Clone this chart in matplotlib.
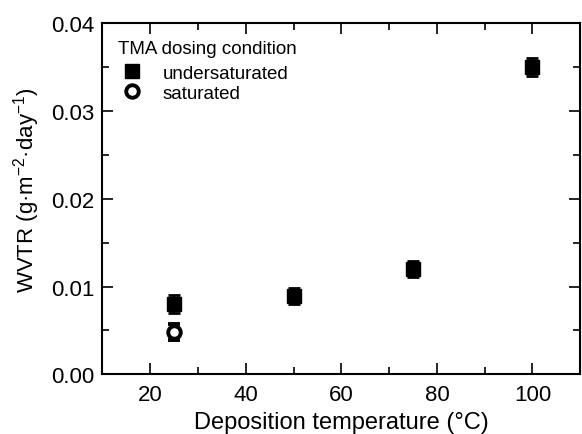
import matplotlib
matplotlib.use("Agg")
import matplotlib.pyplot as plt
from matplotlib.ticker import MultipleLocator, FormatStrFormatter
from matplotlib.lines import Line2D

plt.rcParams["font.family"] = ["Liberation Sans", "DejaVu Sans"]

# undersaturated TMA dosing
temp_under = [25, 50, 75, 100]
wvtr_under = [0.0080, 0.0089, 0.0120, 0.0350]
err_under  = [0.0010, 0.0009, 0.0009, 0.0010]

# saturated TMA dosing
temp_sat = [25]
wvtr_sat = [0.0048]
err_sat  = [0.0009]

fig = plt.figure(figsize=(5.82, 4.35), dpi=100)
ax = fig.add_axes([0.176, 0.137, 0.821, 0.808])

ax.errorbar(temp_under, wvtr_under, yerr=err_under, fmt="s", ms=9.5,
            color="black", mfc="black", mec="black", ecolor="black",
            elinewidth=1.5, capsize=4.5, capthick=2, zorder=3)
ax.errorbar(temp_sat, wvtr_sat, yerr=err_sat, fmt="o", ms=9,
            color="black", mfc="white", mec="black", mew=2.8, ecolor="black",
            elinewidth=1.5, capsize=4.5, capthick=2, zorder=3)

ax.set_xlim(10, 110)
ax.set_ylim(0, 0.04)
ax.xaxis.set_major_locator(MultipleLocator(20))
ax.xaxis.set_minor_locator(MultipleLocator(10))
ax.yaxis.set_major_locator(MultipleLocator(0.01))
ax.yaxis.set_minor_locator(MultipleLocator(0.005))
ax.yaxis.set_major_formatter(FormatStrFormatter("%.2f"))

ax.tick_params(which="both", direction="in", top=True, right=True,
               labelsize=16, width=1.2)
ax.tick_params(which="major", length=8)
ax.tick_params(which="minor", length=5)
ax.tick_params(axis="x", pad=7)
ax.tick_params(axis="y", pad=6)
for s in ax.spines.values():
    s.set_linewidth(1.5)

ax.set_xlabel("Deposition temperature (\u00b0C)", fontsize=17, labelpad=4)
ax.set_ylabel("WVTR (g\u00b7m$^{\\mathregular{-2}}$\u00b7day$^{\\mathregular{-1}}$)",
              fontsize=16)
ax.yaxis.set_label_coords(-0.127, 0.528)

handles = [
    Line2D([], [], ls="none", marker="s", ms=9.5, color="black"),
    Line2D([], [], ls="none", marker="o", ms=9, mfc="white", mec="black", mew=2.8),
]
leg = ax.legend(handles, ["undersaturated", "saturated"],
                title="TMA dosing condition", loc="upper left", frameon=False,
                bbox_to_anchor=(0.006, 0.989),
                fontsize=13.5, title_fontsize=13.5, handletextpad=0.87,
                handlelength=1.5, borderaxespad=0.3, labelspacing=0.15)
leg._legend_box.align = "left"
leg._legend_box.sep = 5.5

fig.savefig("out.png", dpi=100)
